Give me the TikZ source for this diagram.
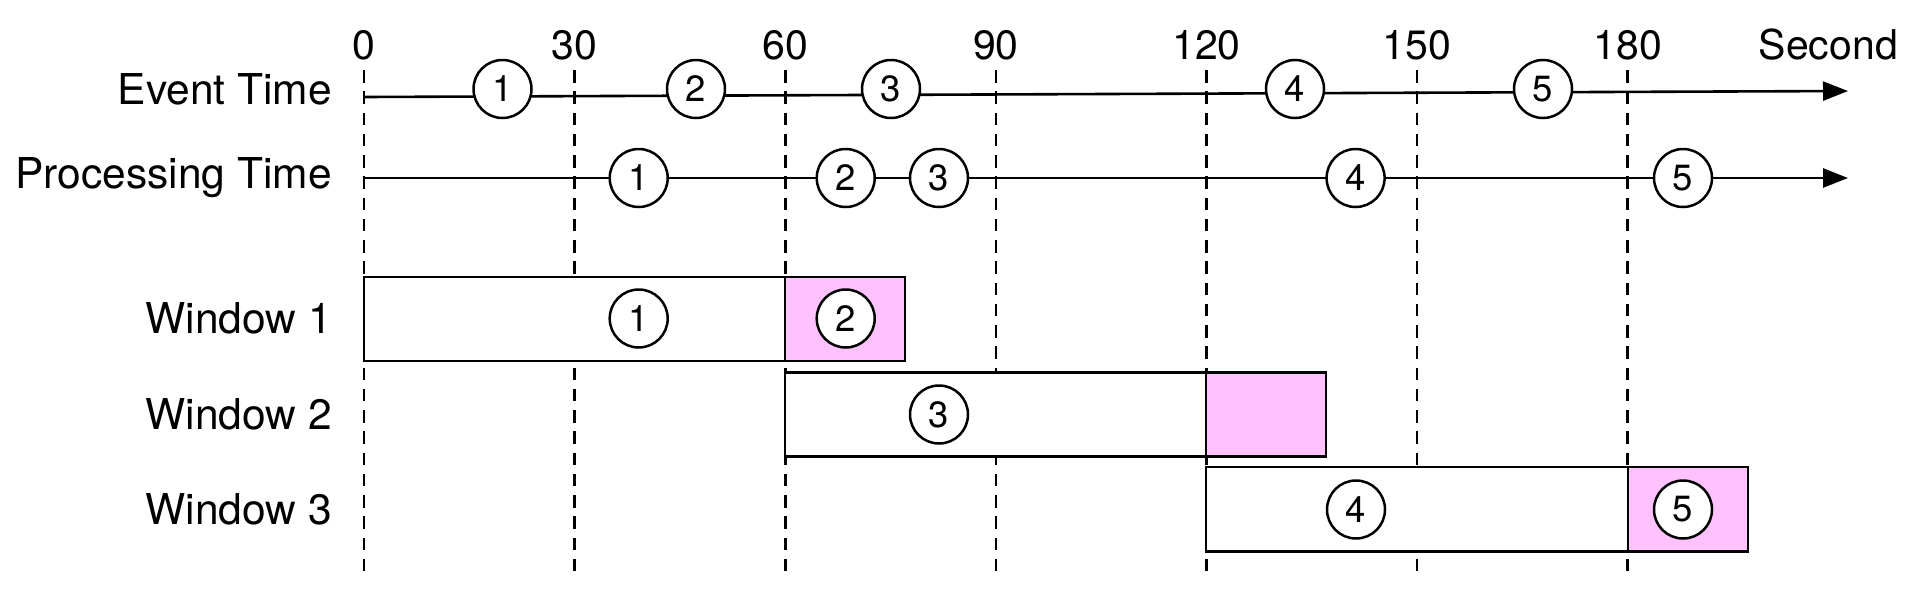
\documentclass[tikz,border=0pt]{standalone}
\usepackage{fontspec}
\setmainfont{TeX Gyre Heros}
\usetikzlibrary{arrows.meta}
\definecolor{lpink}{RGB}{255,194,255}
\tikzset{
  lbl/.style={anchor=east,inner sep=0pt,font=\fontsize{42.5}{50}\selectfont},
  tick/.style={inner sep=0pt,font=\fontsize{41}{49}\selectfont},
  ev/.style={circle,draw,line width=2.5pt,fill=white,minimum size=58pt,inner sep=0pt,font=\fontsize{36.5}{42}\selectfont},
  grid/.style={dash pattern=on 12.5pt off 8.75pt,line width=2.6pt},
  axis/.style={line width=2.6pt,-{Triangle[length=25pt,width=19pt]}},
  wbox/.style={draw,line width=2.7pt,fill=white},
  pbox/.style={draw,line width=2.7pt,fill=lpink}
}
\begin{document}
\begin{tikzpicture}[x=1pt,y=-1pt]
\useasboundingbox (0,0) rectangle (1920,590);
% grid lines
\foreach \i/\t in {0/0,1/30,2/60,3/90,4/120,5/150,6/180}{
  \pgfmathsetmacro{\xx}{364+7.02*\t}
  \coordinate (t\i) at (\xx,70);
  \coordinate (b\i) at (\xx,571);
  \node[tick] (lab\i) at (\xx,45.5) {\t};
  \draw[grid] (t\i) -- (b\i);
}
\node[tick,anchor=east] (sec) at (1898,45) {Second};
% labels
\node[lbl] (let) at (332,89) {Event Time};
\node[lbl] (lpt) at (332,178) {Processing Time};
\node[lbl] (lw1) at (332,318.5) {Window 1};
\node[lbl] (lw2) at (332,414.5) {Window 2};
\node[lbl] (lw3) at (332,509.5) {Window 3};
% boxes
\node[wbox,minimum width=421pt,minimum height=84pt,inner sep=0pt] (w1a) at (574.5,319) {};
\node[pbox,minimum width=120pt,minimum height=84pt,inner sep=0pt] (w1b) at (845,319) {};
\node[wbox,minimum width=421pt,minimum height=84pt,inner sep=0pt] (w2a) at (995.5,414.7) {};
\node[pbox,minimum width=120pt,minimum height=84pt,inner sep=0pt] (w2b) at (1266,414.7) {};
\node[wbox,minimum width=422pt,minimum height=84.5pt,inner sep=0pt] (w3a) at (1417,509.3) {};
\node[pbox,minimum width=120pt,minimum height=84.5pt,inner sep=0pt] (w3b) at (1688,509.3) {};
% axes
\coordinate (es) at (364,97);
\coordinate (ee) at (1848,91);
\coordinate (ps) at (364,178);
\coordinate (pe) at (1848,178);
\draw[axis] (es) -- (ee);
\draw[axis] (ps) -- (pe);
% event time circles
\node[ev] (e1) at (502.5,89) {1};
\node[ev] (e2) at (696,89) {2};
\node[ev] (e3) at (891,89) {3};
\node[ev] (e4) at (1295,89) {4};
\node[ev] (e5) at (1543,89) {5};
% processing time circles
\node[ev] (p1) at (638.7,178) {1};
\node[ev] (p2) at (845.7,178) {2};
\node[ev] (p3) at (939,178) {3};
\node[ev] (p4) at (1355.6,178) {4};
\node[ev] (p5) at (1683,178) {5};
% window circles
\node[ev] (c1) at (638.7,318.5) {1};
\node[ev] (c2) at (845.7,318.5) {2};
\node[ev] (c3) at (939,414.5) {3};
\node[ev] (c4) at (1356,509.5) {4};
\node[ev] (c5) at (1683,509.5) {5};
\end{tikzpicture}
\end{document}
